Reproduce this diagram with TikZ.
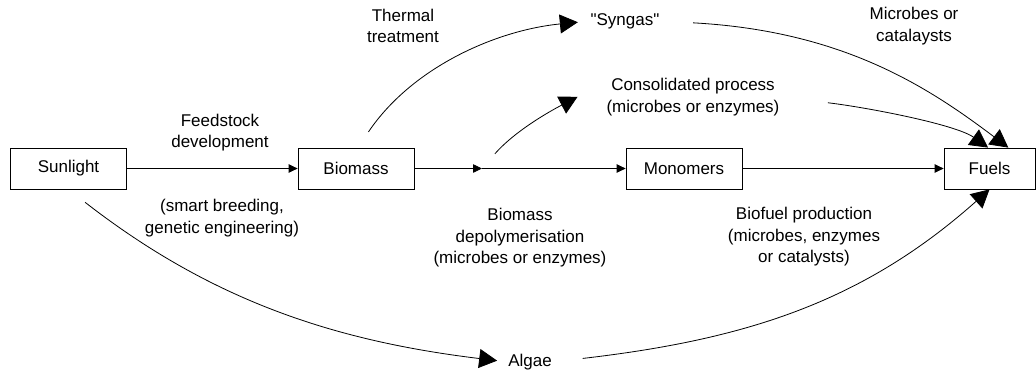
\documentclass[tikz,border=0pt]{standalone}
\usepackage{fontspec}
\newfontfamily\lib{Liberation Sans}
\usetikzlibrary{arrows.meta}
\begin{document}
\begin{tikzpicture}[x=1pt,y=-1pt,
  txt/.style={font=\lib\fontsize{17}{21.5}\selectfont},
  box/.style={txt, draw, line width=0.8pt, minimum width=116pt, minimum height=41pt, inner sep=0pt},
  lbl/.style={txt, align=center, inner sep=0pt},
  conn/.style={line width=0.8pt, -{Triangle[length=9pt,width=8.5pt]}},
  bigconn/.style={line width=0.8pt, -{Triangle[length=18pt,width=19pt]}}]
\useasboundingbox (0,0) rectangle (1036,375);
% main boxes
\node[box] (sun) at (68.5,168.5) {Sunlight};
\node[box] (bio) at (356,168.5) {Biomass};
\node[box] (mono) at (684,168.5) {Monomers};
\node[box, minimum width=91pt] (fuel) at (989.5,168.5) {Fuels};
% intermediate text nodes
\node[lbl] (syn) at (625,21) {"Syngas"};
\node[lbl] (cons) at (693,97) {Consolidated process\\(microbes or enzymes)};
\node[lbl] (alg) at (530,362) {Algae};
\coordinate (mid) at (482,168.5);
% labels
\node[lbl] (feedL) at (220,132.5) {Feedstock\\development};
\node[lbl] (smartL) at (222,218) {(smart breeding,\\genetic engineering)};
\node[lbl] (thermL) at (403,26) {Thermal\\treatment};
\node[lbl] (microL) at (914,26) {Microbes or\\catalaysts};
\node[lbl] (depolL) at (520,238) {Biomass\\depolymerisation\\(microbes or enzymes)};
\node[lbl] (biofL) at (804,237) {Biofuel production\\(microbes, enzymes\\or catalysts)};
% straight connectors
\draw[conn] (sun) -- (bio);
\draw[conn] (bio) -- (mid);
\draw[conn] (mid) -- (mono);
\draw[conn] (mono) -- (fuel);
% curved connectors
\draw[bigconn, shorten <=19pt, shorten >=12.6pt] (bio.85) .. controls (413,66) and (498,30) .. (syn.west);
\draw[bigconn, shorten <=19.6pt, shorten >=32.5pt] (mid) .. controls (518,127.5) and (560,106) .. (cons.170);
\draw[bigconn, shorten <=33.6pt] (syn.east) .. controls (843,31) and (928,87) .. (fuel.48);
\draw[bigconn, shorten <=48.5pt] (cons.east) .. controls (867,107.4) and (955.6,124.4) .. (fuel.94);
\draw[bigconn, shorten <=21pt, shorten >=11pt] (sun.south) .. controls (212,301) and (335,341) .. (alg.west);
\draw[bigconn, shorten <=31pt] (alg.east) .. controls (746,339.5) and (863,302) .. (fuel.south);
\end{tikzpicture}
\end{document}
